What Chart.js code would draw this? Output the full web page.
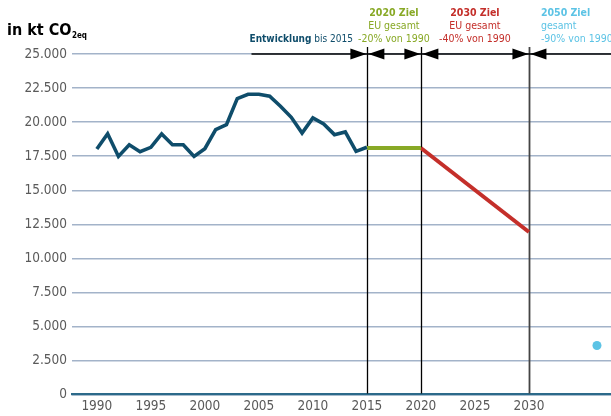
<!DOCTYPE html>
<html lang="de">
  <head>
    <meta charset="UTF-8" />
    <title>Treibhausgasemissionen</title>
    <style>
      * {
        margin: 0;
        padding: 0;
      }
      body {
        background: #fff;
      }
      .chartBox {
        width: 611px;
        height: 416px;
        position: relative;
      }
    </style>
  </head>
  <body>
    <div class="chartBox">
      <canvas id="myChart" width="611" height="416"></canvas>
    </div>

    <script src="https://cdn.jsdelivr.net/npm/chart.js"></script>

    <script>
      // data block
      const years = [
        1990, 1991, 1992, 1993, 1994, 1995, 1996, 1997, 1998, 1999, 2000, 2001, 2002,
        2003, 2004, 2005, 2006, 2007, 2008, 2009, 2010, 2011, 2012, 2013, 2014, 2015
      ];
      const emissions = [
        18030, 19150, 17480, 18340, 17830, 18150, 19130, 18340, 18340, 17480, 18050, 19450, 19810,
        21730, 22040, 22040, 21900, 21160, 20350, 19200, 20310, 19870, 19080, 19280, 17850, 18150
      ];
      const target2020Years = [2015, 2020];
      const target2020Values = [18100, 18100];
      const target2030Years = [2020, 2030];
      const target2030Values = [18100, 11930];
      const target2050Years = [2036.3];
      const target2050Values = [3600];

      const xTickYears = [1990, 1995, 2000, 2005, 2010, 2015, 2020, 2025, 2030];
      const markerYears = [2015, 2020, 2030];

      const COND = '"DejaVu Sans Condensed", "DejaVu Sans", sans-serif';
      const blue = "#0f4d6b";
      const green = "#88a926";
      const red = "#c42f2a";
      const lightBlue = "#5cc3e5";

      const toPoints = (xs, ys) => xs.map((x, i) => ({ x: x, y: ys[i] }));

      const data = {
        datasets: [
          {
            label: "Entwicklung",
            data: toPoints(years, emissions),
            borderColor: blue,
            borderWidth: 3.6,
            pointRadius: 0,
            tension: 0
          },
          {
            label: "2020 Ziel",
            data: toPoints(target2020Years, target2020Values),
            borderColor: green,
            borderWidth: 4,
            pointRadius: 0
          },
          {
            label: "2030 Ziel",
            data: toPoints(target2030Years, target2030Values),
            borderColor: red,
            borderWidth: 4,
            pointRadius: 0
          },
          {
            label: "2050 Ziel",
            data: toPoints(target2050Years, target2050Values),
            showLine: false,
            pointRadius: 4.5,
            pointBorderWidth: 0,
            pointBackgroundColor: lightBlue,
            borderColor: lightBlue
          }
        ]
      };

      // plugin block: marker lines, arrows, labels, unit
      const decorations = {
        id: "decorations",
        beforeDatasetsDraw(chart) {
          const {
            ctx,
            chartArea: { bottom },
            scales: { x }
          } = chart;
          ctx.save();
          markerYears.forEach((yr, i) => {
            const px = Math.round(x.getPixelForValue(yr)) + 0.5;
            ctx.beginPath();
            ctx.lineWidth = i === 2 ? 1.8 : 1.3;
            ctx.strokeStyle = i === 2 ? "#444" : "#000";
            ctx.moveTo(px, 47);
            ctx.lineTo(px, bottom - 1);
            ctx.stroke();
          });
          ctx.restore();
        },
        afterDatasetsDraw(chart) {
          const {
            ctx,
            scales: { x, y }
          } = chart;
          ctx.save();

          const x15 = x.getPixelForValue(2015);
          const x20 = x.getPixelForValue(2020);
          const x30 = x.getPixelForValue(2030);
          const arrowY = y.getPixelForValue(25000);

          // Entwicklung label (ends a bit left of the 2015 line)
          ctx.textBaseline = "alphabetic";
          ctx.font = "bold 10px " + COND;
          const w1 = ctx.measureText("Entwicklung").width;
          ctx.font = "10px " + COND;
          const w2 = ctx.measureText(" bis 2015").width;
          const startX = x15 - 14 - w1 - w2;
          ctx.fillStyle = blue;
          ctx.font = "bold 10px " + COND;
          ctx.textAlign = "left";
          ctx.fillText("Entwicklung", startX, 42);
          ctx.font = "10px " + COND;
          ctx.fillText(" bis 2015", startX + w1, 42);

          // arrow line
          ctx.beginPath();
          ctx.strokeStyle = "#000";
          ctx.lineWidth = 1.4;
          ctx.moveTo(startX + 2, arrowY);
          ctx.lineTo(chart.width, arrowY);
          ctx.stroke();

          function arrow(tipX, dir) {
            ctx.beginPath();
            ctx.fillStyle = "#000";
            ctx.moveTo(tipX, arrowY);
            ctx.lineTo(tipX - dir * 16, arrowY - 5.5);
            ctx.lineTo(tipX - dir * 16, arrowY + 5.5);
            ctx.closePath();
            ctx.fill();
          }
          [x15, x20, x30].forEach((px) => {
            arrow(px - 0.5, 1);
            arrow(px + 1.5, -1);
          });

          // target labels
          function block(lines, color, px, align) {
            ctx.fillStyle = color;
            ctx.textAlign = align;
            lines.forEach((t, i) => {
              ctx.font = (i === 0 ? "bold " : "") + "10.5px " + COND;
              ctx.fillText(t, px, 16 + i * 13);
            });
          }
          block(["2020 Ziel", "EU gesamt", "-20% von 1990"], green, (x15 + x20) / 2, "center");
          block(["2030 Ziel", "EU gesamt", "-40% von 1990"], red, (x20 + x30) / 2, "center");
          block(["2050 Ziel", "gesamt", "-90% von 1990"], lightBlue, x30 + 12, "left");

          // unit
          ctx.fillStyle = "#000";
          ctx.textAlign = "left";
          ctx.font = "bold 16px " + COND;
          ctx.fillText("in kt CO", 7, 35);
          const wu = ctx.measureText("in kt CO").width;
          ctx.font = "bold 8px " + COND;
          ctx.fillText("2eq", 7 + wu + 0.5, 37.5);

          ctx.restore();
        }
      };

      // config block
      const config = {
        type: "line",
        data,
        options: {
          responsive: false,
          animation: false,
          layout: {
            autoPadding: false,
            padding: { top: 54, left: 0, right: 0, bottom: 0 }
          },
          plugins: {
            legend: { display: false },
            tooltip: { enabled: false }
          },
          scales: {
            x: {
              type: "linear",
              min: 1987.7,
              max: 2037.6,
              afterBuildTicks: (scale) => {
                scale.ticks = xTickYears.map((v) => ({ value: v }));
              },
              afterFit: (scale) => {
                scale.height = 21.5;
              },
              grid: { display: false, drawTicks: false },
              border: { display: true, color: "#2c6a8a", width: 2.2 },
              ticks: {
                autoSkip: false,
                maxRotation: 0,
                padding: 4,
                color: "#5a5a5a",
                font: { family: COND, size: 13.5 },
                callback: (v) => String(v)
              }
            },
            y: {
              min: 0,
              max: 25000,
              afterFit: (scale) => {
                scale.width = 72;
              },
              grid: { color: "#a3b3c9", lineWidth: 1.4, drawTicks: false },
              border: { display: false },
              ticks: {
                autoSkip: false,
                stepSize: 2500,
                padding: 5,
                color: "#5a5a5a",
                font: { family: COND, size: 13.5 },
                callback: (v) => String(v).replace(/\B(?=(\d{3})+(?!\d))/g, ".")
              }
            }
          }
        },
        plugins: [decorations]
      };

      // init render block
      const myChart = new Chart(document.getElementById("myChart"), config);
    </script>
  </body>
</html>
